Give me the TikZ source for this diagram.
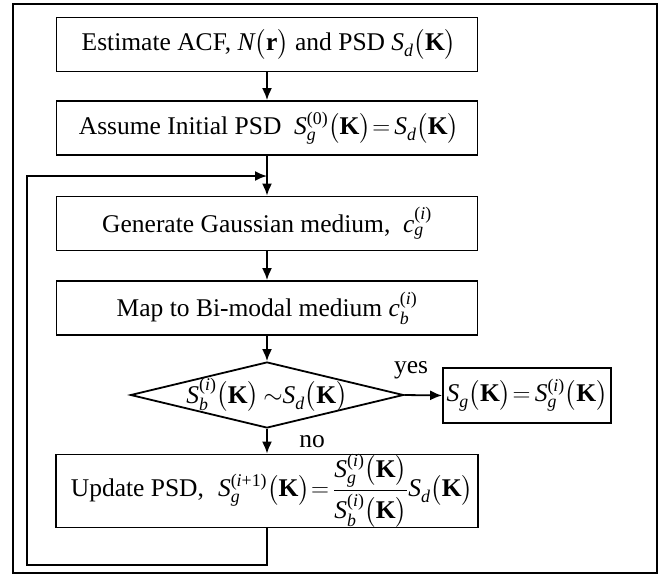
\documentclass[tikz,border=0pt]{standalone}
\usepackage{amsmath}
\usepackage{fontspec}
\setmainfont{Liberation Serif}
\usetikzlibrary{shapes.geometric,arrows.meta}
\newcommand\Kp{\bigl(\textbf{K}\bigr)}
\newcommand\Sx[2]{\textit{S}_{\textit{#1}}^{#2}}
\newcommand\ix{\textup{(}\textit{i}\textup{)}}
\newcommand\eq{\mkern1mu{=}\mkern3mu}
\begin{document}
\begin{tikzpicture}[x=1pt,y=-1pt,
  txt/.style={font=\fontsize{25.5}{30}\selectfont},
  lbl/.style={txt, inner sep=0pt, anchor=base},
  box/.style={txt, draw, line width=1.8pt, minimum width=421pt, minimum height=54pt, inner sep=0pt},
  arr/.style={line width=1.8pt, -{Latex[length=12pt,width=10pt]}}]
\useasboundingbox (0,0) rectangle (659,576);
\draw[line width=1.2pt] (13,4) rectangle (657,573);

\node[box] (b1) at (267,44.5) {\hspace{4pt}Estimate ACF, $\textit{N}\bigl(\textbf{r}\bigr)$ and PSD $\Sx{d}{}\Kp$};
\node[box] (b2) at (267,128) {\hspace{4pt}Assume Initial PSD\ \ $\Sx{g}{\textup{(0)}}\Kp\eq\Sx{d}{}\Kp$};
\node[box] (b3) at (267,223.5) {Generate Gaussian medium,\ \ $\textit{c}_{\textit{g}}^{\ix}$};
\node[box] (b4) at (267,308) {Map to Bi-modal medium $\textit{c}_{\textit{b}}^{\ix}$};
\node[diamond, draw, line width=1.8pt, minimum width=273pt, minimum height=66pt, inner sep=0pt] (d) at (267,395) {};
\node[txt] (dt) at (d.center) {$\Sx{b}{\ix}\Kp\,{\sim}\Sx{d}{}\Kp$};
\node[box, minimum width=168pt, minimum height=55pt] (yb) at (527,395.5) {$\Sx{g}{}\Kp\eq\Sx{g}{\ix}\Kp$};
\node[box, minimum width=422pt, minimum height=66pt] (b5) at (267,491) {\hspace{10pt}Update PSD,\hspace{0.55em}$\Sx{g}{\textup{(}\textit{i}\textup{+1)}}\Kp\eq\dfrac{\Sx{g}{\ix}\Kp}{\Sx{b}{\ix}\Kp}\Sx{d}{}\Kp$};

\node[lbl] (yes) at (411,373) {yes};
\node[lbl] (no) at (312,447) {no};

\coordinate (l1) at (267,565);
\coordinate (l2) at (27,565);
\coordinate (l3) at (27,176);
\coordinate (j) at (267,176);

\draw[arr] (b1.south) -- (b2.north);
\draw[arr] (b2.south) -- (b3.north);
\draw[arr] (b3.south) -- (b4.north);
\draw[arr] (b4.south) -- (d.north);
\draw[arr] (d.south) -- (b5.north);
\draw[arr] (d.east) -- (yb.west);
\draw[arr] (b5.south) -- (l1) -- (l2) -- (l3) -- (j);
\end{tikzpicture}
\end{document}
